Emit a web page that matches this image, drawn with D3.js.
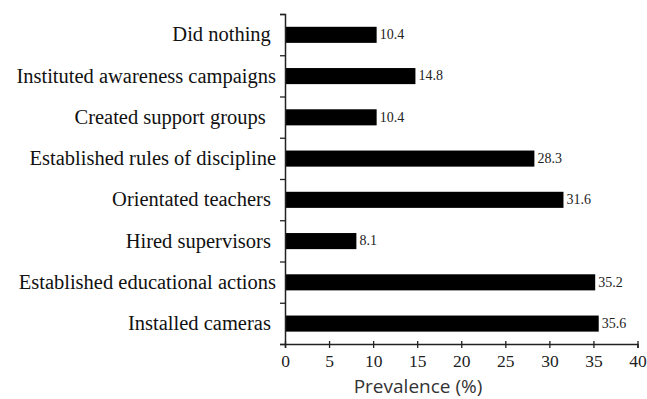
<!DOCTYPE html>
<html><head><meta charset="utf-8">
<script src="https://cdn.jsdelivr.net/npm/d3@7"></script>
<style>body{margin:0;background:#fff}svg{display:block}</style>
</head><body>
<svg id="chart" width="647" height="399"></svg>
<script>
const categories = ["Did nothing ","Instituted awareness campaigns","Created support groups  ","Established rules of discipline","Orientated teachers ","Hired supervisors ","Established educational actions","Installed cameras "];
const values = [10.4,14.8,10.4,28.3,31.6,8.1,35.2,35.6];
const valueLabels = ["10.4","14.8","10.4","28.3","31.6","8.1","35.2","35.6"];
const xTicks = [0,5,10,15,20,25,30,35,40];
const xTitle = "Prevalence (%)";

(function(){
const SERIF = "Liberation Serif";
const SANS = "Open Sans";
const svg = d3.select("#chart");
const mLeft = 285, mRight = 637.5, mTop = 14, mBottom = 344;
const x = d3.scaleLinear().domain([0,40]).range([mLeft,mRight]);
const y = d3.scaleBand().domain(categories).range([mTop,mBottom]).padding(0);
const yIdx = d3.scaleLinear().domain([0,categories.length]).range([mTop,mBottom]);
const bw = y.bandwidth();

svg.append("g").selectAll("rect").data(values).join("rect")
  .attr("x", x(0))
  .attr("y", (d,i)=> y(categories[i]) + bw*0.31)
  .attr("width", d=> x(d)-x(0))
  .attr("height", bw*0.39)
  .attr("fill","#000");

svg.append("g").selectAll("text").data(values).join("text")
  .attr("font-family",SERIF)
  .attr("x", d=> x(d)+3)
  .attr("y", (d,i)=> y(categories[i]) + bw*0.5)
  .attr("dy","0.33em")
  .attr("font-size",14)
  .attr("fill","#222")
  .text((d,i)=> valueLabels[i]);

svg.append("g").selectAll("text").data(categories).join("text")
  .attr("font-family",SERIF)
  .attr("x", 276)
  .attr("y", c=> y(c)+bw*0.5)
  .attr("dy","0.33em")
  .attr("text-anchor","end")
  .attr("font-size",20.5)
  .attr("fill","#111")
  .style("white-space","pre")
  .text(c=>c);

const yAxis = svg.append("g").attr("transform",`translate(${mLeft},0)`)
  .call(d3.axisLeft(yIdx).tickValues(d3.range(0,categories.length+1)).tickSize(5).tickFormat(""));
yAxis.select(".domain").attr("stroke","#222").attr("stroke-width",1.5);
yAxis.selectAll(".tick line").attr("stroke","#222").attr("stroke-width",1.3);

const xAxis = svg.append("g").attr("transform",`translate(0,${mBottom})`)
  .call(d3.axisBottom(x).tickValues(xTicks).tickSize(4).tickPadding(7));
xAxis.attr("font-family",SERIF);
xAxis.select(".domain").attr("stroke","#222").attr("stroke-width",1.5);
xAxis.selectAll(".tick line").attr("stroke","#222").attr("stroke-width",1.3).attr("y1",-3);
xAxis.selectAll(".tick text")
  .attr("font-family",SERIF)
  .attr("font-size",17.5).attr("fill","#222");

svg.append("text")
  .attr("font-family",SANS)
  .attr("x", 418)
  .attr("y", 393)
  .attr("text-anchor","middle")
  .attr("font-size",19)
  .attr("fill","#333")
  .text(xTitle);
})();
</script>
</body></html>
